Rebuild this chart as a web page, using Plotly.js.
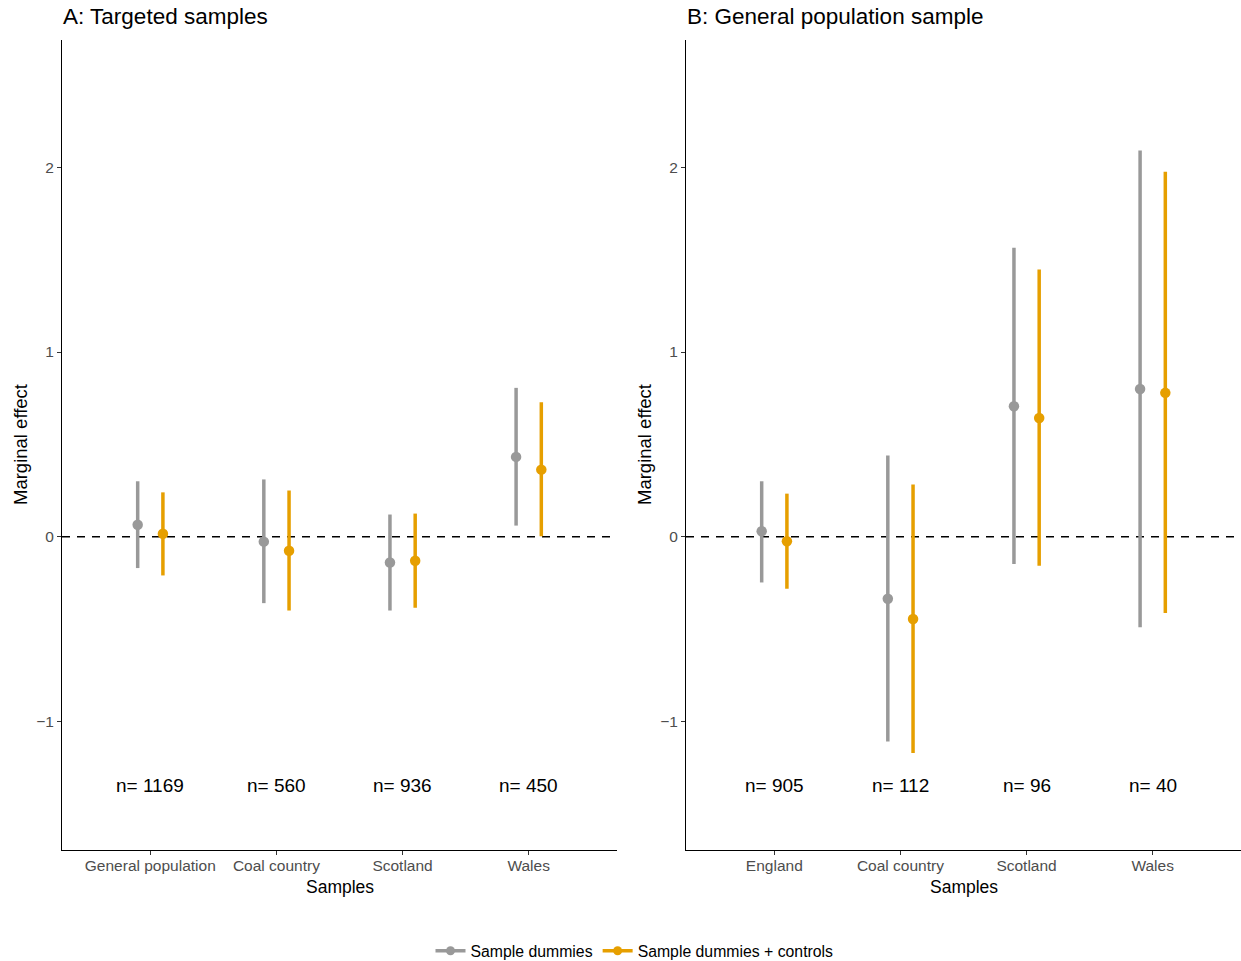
<!DOCTYPE html>
<html>
<head>
<meta charset="utf-8">
<script src="https://cdn.plot.ly/plotly-3.0.1.min.js"></script>
<style>html,body{margin:0;padding:0;background:#fff;overflow:hidden;}#chart{width:1241px;height:961px;}</style>
</head>
<body>
<div id="chart"></div>
<script>
// Panel A: Targeted samples
const categoriesA = ['General population', 'Coal country', 'Scotland', 'Wales'];
const nA = [1169, 560, 936, 450];
const dumEstA = [0.065, -0.027, -0.14, 0.432];
const dumLoA  = [-0.17, -0.36, -0.40, 0.06];
const dumHiA  = [0.30, 0.31, 0.12, 0.806];
const ctlEstA = [0.016, -0.076, -0.13, 0.363];
const ctlLoA  = [-0.21, -0.40, -0.385, 0.002];
const ctlHiA  = [0.24, 0.25, 0.125, 0.728];

// Panel B: General population sample
const categoriesB = ['England', 'Coal country', 'Scotland', 'Wales'];
const nB = [905, 112, 96, 40];
const dumEstB = [0.029, -0.336, 0.706, 0.80];
const dumLoB  = [-0.248, -1.11, -0.148, -0.49];
const dumHiB  = [0.30, 0.44, 1.565, 2.092];
const ctlEstB = [-0.025, -0.446, 0.643, 0.779];
const ctlLoB  = [-0.282, -1.172, -0.157, -0.414];
const ctlHiB  = [0.233, 0.282, 1.447, 1.977];

const seriesNames = ['Sample dummies', 'Sample dummies + controls'];
const nLabelY = -1.35;

const GRAY = '#999999', ORANGE = '#E69F00';
const DODGE = 0.1;
const pos = (cats, off) => cats.map((c, i) => i + 1 + off);

function pr(cats, est, lo, hi, color, off, xa, ya, name) {
  return {
    type: 'scatter', mode: 'markers', name: name, showlegend: false,
    x: pos(cats, off), y: est, xaxis: xa, yaxis: ya,
    marker: {color: color, size: 10.5},
    error_y: {type: 'data', symmetric: false,
      array: hi.map((h, i) => h - est[i]),
      arrayminus: lo.map((l, i) => est[i] - l),
      color: color, thickness: 3.5, width: 0},
    hoverinfo: 'x+y'
  };
}

const traces = [
  pr(categoriesA, dumEstA, dumLoA, dumHiA, GRAY, -DODGE, 'x', 'y', seriesNames[0]),
  pr(categoriesA, ctlEstA, ctlLoA, ctlHiA, ORANGE, DODGE, 'x', 'y', seriesNames[1]),
  pr(categoriesB, dumEstB, dumLoB, dumHiB, GRAY, -DODGE, 'x2', 'y2', seriesNames[0]),
  pr(categoriesB, ctlEstB, ctlLoB, ctlHiB, ORANGE, DODGE, 'x2', 'y2', seriesNames[1]),
  {type: 'scatter', mode: 'lines+markers', name: seriesNames[0], x: [null], y: [null],
   line: {color: GRAY, width: 3.5}, marker: {color: GRAY, size: 9}, showlegend: true},
  {type: 'scatter', mode: 'lines+markers', name: seriesNames[1], x: [null], y: [null],
   line: {color: ORANGE, width: 3.5}, marker: {color: ORANGE, size: 9}, showlegend: true}
];

const W = 1241, H = 961, T = 40, B = 111;
const plotH = H - T - B;
const py = (pix) => (H - B - pix) / plotH;

const yRange = [-1.697, 2.69];
const tickFont = {family: 'Liberation Sans, Arial, sans-serif', size: 15.5, color: '#4D4D4D'};

function xax(domain, cats) {
  return {domain: domain, range: [0.3, 4.7], tickmode: 'array',
    tickvals: cats.map((c, i) => i + 1), ticktext: cats,
    showline: true, linecolor: '#000', linewidth: 1.1, ticks: 'outside', ticklen: 4,
    tickcolor: '#333', tickwidth: 1.1, showgrid: false, zeroline: false,
    ticklabelstandoff: -3,
    tickfont: tickFont, fixedrange: true, automargin: false};
}
function yax(anchor) {
  return {anchor: anchor, range: yRange, tickmode: 'array', tickvals: [-1, 0, 1, 2],
    ticktext: ['\u22121', '0', '1', '2'],
    showline: true, linecolor: '#000', linewidth: 1.1, ticks: 'outside', ticklen: 4,
    tickcolor: '#333', tickwidth: 1.1, showgrid: false, zeroline: false,
    tickfont: tickFont, fixedrange: true, automargin: false};
}

const domA = [62 / W, 617 / W], domB = [686 / W, 1];
const textFont = {family: 'Liberation Sans, Arial, sans-serif', color: '#000'};

const annotations = [];
annotations.push({xref: 'paper', yref: 'paper', x: domA[0] - 1 / W, y: py(16.5), xanchor: 'left', yanchor: 'middle',
  text: 'A: Targeted samples', showarrow: false, font: Object.assign({size: 22.5}, textFont)});
annotations.push({xref: 'paper', yref: 'paper', x: domB[0] - 1 / W, y: py(16.5), xanchor: 'left', yanchor: 'middle',
  text: 'B: General population sample', showarrow: false, font: Object.assign({size: 22.5}, textFont)});
[domA, domB].forEach((d) => {
  annotations.push({xref: 'paper', yref: 'paper', x: (d[0] + d[1]) / 2, y: py(887), xanchor: 'center', yanchor: 'middle',
    text: 'Samples', showarrow: false, font: Object.assign({size: 17.5}, textFont)});
});
annotations.push({xref: 'paper', yref: 'paper', x: 20 / W, y: py(445), xanchor: 'center', yanchor: 'middle',
  textangle: -90, text: 'Marginal effect', showarrow: false, font: Object.assign({size: 18.5}, textFont)});
annotations.push({xref: 'paper', yref: 'paper', x: 644 / W, y: py(445), xanchor: 'center', yanchor: 'middle',
  textangle: -90, text: 'Marginal effect', showarrow: false, font: Object.assign({size: 18.5}, textFont)});
categoriesA.forEach((c, i) => annotations.push({xref: 'x', yref: 'y', x: i + 1, y: nLabelY,
  text: 'n= ' + nA[i], showarrow: false, xanchor: 'center', yanchor: 'middle', font: Object.assign({size: 19}, textFont)}));
categoriesB.forEach((c, i) => annotations.push({xref: 'x2', yref: 'y2', x: i + 1, y: nLabelY,
  text: 'n= ' + nB[i], showarrow: false, xanchor: 'center', yanchor: 'middle', font: Object.assign({size: 19}, textFont)}));

const shapes = [
  {type: 'line', xref: 'x domain', yref: 'y', x0: 0, x1: 1, y0: 0, y1: 0, line: {color: '#000', width: 1.5, dash: '8px,7px'}, layer: 'below'},
  {type: 'line', xref: 'x2 domain', yref: 'y2', x0: 0, x1: 1, y0: 0, y1: 0, line: {color: '#000', width: 1.5, dash: '8px,7px'}, layer: 'below'}
];

const layout = {
  width: W, height: H,
  margin: {l: 0, r: 0, t: T, b: B, pad: 0, autoexpand: false},
  paper_bgcolor: '#fff', plot_bgcolor: '#fff',
  font: {family: 'Liberation Sans, Arial, sans-serif'},
  xaxis: xax(domA, categoriesA),
  yaxis: yax('x'),
  xaxis2: xax(domB, categoriesB),
  yaxis2: yax('x2'),
  showlegend: true,
  legend: {orientation: 'h', x: 0.5 + 14 / W, xanchor: 'center', yref: 'container', y: 1 - 951 / H, yanchor: 'middle',
    font: {family: 'Liberation Sans, Arial, sans-serif', size: 15.8, color: '#000'},
    itemwidth: 30, bgcolor: 'rgba(0,0,0,0)'},
  annotations: annotations,
  shapes: shapes
};

Plotly.newPlot('chart', traces, layout, {displayModeBar: false, responsive: false});
</script>
</body>
</html>
